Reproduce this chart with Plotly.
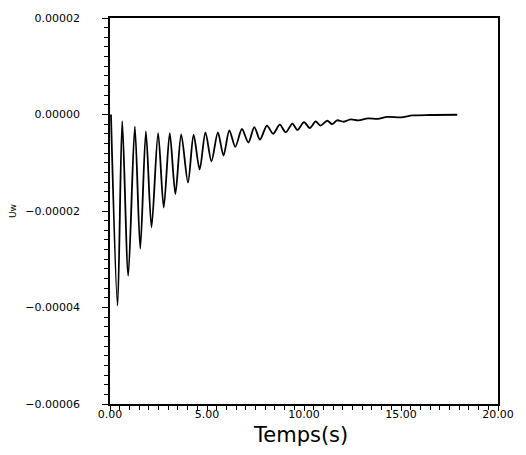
import plotly.graph_objects as go

# time (s) of points (extremes + tail)
temps = [0.05, 0.39, 0.63, 0.94, 1.28, 1.56, 1.85, 2.14, 2.48, 2.77, 3.08, 3.37, 3.67,
         4.02, 4.31, 4.62, 4.92, 5.23, 5.56, 5.85, 6.15, 6.46, 6.80, 7.13, 7.44,
         7.73, 8.09, 8.41, 8.75, 9.06, 9.40, 9.66, 10.0, 10.3, 10.6, 10.85, 11.2,
         11.45, 11.7, 12.05, 12.4, 12.8, 13.3, 13.8, 14.3, 15.0, 15.6, 16.5, 17.9]
uw = [0.0, -3.96e-5, -1.4e-6, -3.34e-5, -2.5e-6, -2.78e-5, -3.5e-6, -2.34e-5, -3.85e-6,
      -1.93e-5, -3.85e-6, -1.65e-5, -4.1e-6,
      -1.41e-5, -4.2e-6, -1.14e-5, -3.7e-6, -9.7e-6, -3.7e-6, -8.5e-6, -3.3e-6,
      -6.7e-6, -3.0e-6, -5.8e-6, -2.6e-6,
      -5.2e-6, -2.3e-6, -4.0e-6, -2.1e-6, -3.7e-6, -1.9e-6, -3.2e-6, -1.6e-6,
      -2.8e-6, -1.44e-6, -2.3e-6, -1.3e-6,
      -2.0e-6, -1.2e-6, -1.5e-6, -1.0e-6, -1.2e-6, -0.8e-6, -0.9e-6, -0.5e-6,
      -0.6e-6, -0.2e-6, -0.1e-6, -0.05e-6]

x_ticks = [0, 5, 10, 15, 20]
x_labels = ["0.00", "5.00", "10.00", "15.00", "20.00"]
y_ticks = [0.00002, 0.0, -0.00002, -0.00004, -0.00006]
y_labels = ["0.00002", "0.00000", "\u22120.00002", "\u22120.00004", "\u22120.00006"]

fig = go.Figure()
fig.add_trace(go.Scatter(x=temps, y=uw, mode="lines",
                         line=dict(color="black", width=1.8, shape="spline", smoothing=0.8),
                         showlegend=False, hoverinfo="skip"))

axfont = dict(family="DejaVu Sans", size=11, color="black")
fig.update_layout(
    width=526, height=455,
    margin=dict(l=110, r=26, t=16, b=51),
    paper_bgcolor="white", plot_bgcolor="white",
    xaxis=dict(range=[0, 20], tickvals=x_ticks, ticktext=x_labels,
               showgrid=False, zeroline=False, showline=True, linecolor="black",
               linewidth=1.5, mirror=True, ticks="outside", ticklen=5, tickwidth=1,
               tickcolor="black", tickfont=axfont, ticklabelstandoff=-6,
               minor=dict(dtick=0.5, ticks="outside", ticklen=4, tickcolor="black", showgrid=False)),
    yaxis=dict(range=[-0.00006, 0.00002], tickvals=y_ticks, ticktext=y_labels,
               showgrid=False, zeroline=False, showline=True, linecolor="black",
               linewidth=1.5, mirror=True, ticks="outside", ticklen=6, tickwidth=1,
               tickcolor="black", tickfont=axfont, ticklabelstandoff=20,
               minor=dict(dtick=0.000002, ticks="outside", ticklen=4, tickcolor="black", showgrid=False)),
    annotations=[
        dict(text="Temps(s)", xref="paper", yref="paper", x=0.49, y=-0.08,
             xanchor="center", yanchor="middle", showarrow=False,
             font=dict(family="DejaVu Sans", size=21, color="black")),
        dict(text="Uw", xref="paper", yref="paper", x=-0.25, y=0.5,
             xanchor="center", yanchor="middle", showarrow=False, textangle=-90,
             font=dict(family="DejaVu Sans", size=9, color="black")),
    ],
)

fig.write_html("out.html")
